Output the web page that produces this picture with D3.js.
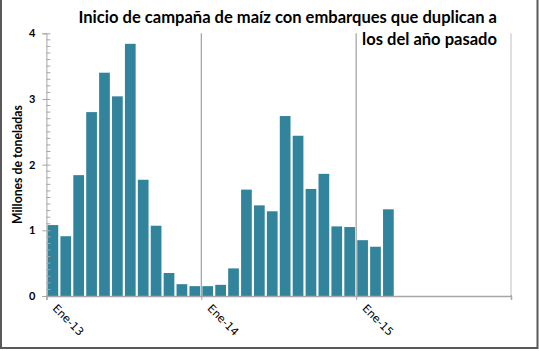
<!DOCTYPE html>
<html>
<head>
<meta charset="utf-8">
<script src="https://cdn.jsdelivr.net/npm/d3@7"></script>
<style>
  body { margin: 0; background: #fff; }
  svg { display: block; }
</style>
</head>
<body>
<svg id="chart" width="539" height="351"></svg>
<script>
// month names and years on the axis
const monthNames = ["Ene", "Feb", "Mar", "Abr", "May", "Jun", "Jul", "Ago", "Sep", "Oct", "Nov", "Dic"];
const years = ["13", "14", "15"];
// embarques, millones de toneladas (Ene-13 .. Mar-15)
const embarques = [1.08, 0.91, 1.84, 2.80, 3.40, 3.04, 3.84, 1.77, 1.07, 0.35, 0.18, 0.15,
                   0.15, 0.17, 0.42, 1.62, 1.38, 1.29, 2.74, 2.44, 1.63, 1.86, 1.06, 1.05,
                   0.85, 0.75, 1.32];
const yTicks = [0, 1, 2, 3, 4];
const xTickLabels = ["Ene-13", "Ene-14", "Ene-15"];
const titleLines = ["Inicio de campaña de maíz con embarques que duplican a", "los del año pasado"];
const yTitle = "Millones de toneladas";

const allMonths = [];
years.forEach(y => monthNames.forEach(m => allMonths.push(m + "-" + y)));

const svg = d3.select("svg#chart");
const bounds = { minX: 46.4, maxX: 511, minY: 33.3, maxY: 296 };

// frame
svg.append("rect")
    .attr("x", 1).attr("y", -2)
    .attr("width", 536.5).attr("height", 350)
    .attr("fill", "none").attr("stroke", "#595959").attr("stroke-width", 2);

const xBand = d3.scaleBand().domain(allMonths)
    .range([bounds.minX, bounds.maxX])
    .paddingInner(0.17).paddingOuter(0.085);
const xPos = d3.scaleLinear().domain([0, allMonths.length]).range([bounds.minX, bounds.maxX]);
const y = d3.scaleLinear().domain([0, 4]).range([bounds.maxY, bounds.minY]);

// vertical year gridlines
const yearIdx = [12, 24, 36];
svg.append("g").selectAll("line").data(yearIdx).join("line")
    .attr("x1", d => xPos(d)).attr("x2", d => xPos(d))
    .attr("y1", bounds.minY).attr("y2", bounds.maxY)
    .attr("stroke", d => d === 36 ? "#bfbfbf" : "#8c8c8c").attr("stroke-width", 1);

// bars
svg.append("g").selectAll("rect").data(embarques).join("rect")
    .attr("x", (d, i) => xBand(allMonths[i]))
    .attr("width", xBand.bandwidth())
    .attr("y", d => y(d))
    .attr("height", d => y(0) - y(d))
    .attr("fill", "#31849b");

// y axis
const yAxisG = svg.append("g").attr("transform", `translate(${bounds.minX} 0)`);
yAxisG.call(d3.axisLeft(y).tickValues(yTicks).tickSize(4).tickPadding(7).tickFormat(d3.format("d")));
yAxisG.select(".domain").attr("stroke", "#a6a6a6");
yAxisG.selectAll(".tick line").attr("x1", -4).attr("x2", 4).attr("stroke", "#a6a6a6");
yAxisG.selectAll(".tick text")
    .attr("font-family", "Lato, 'Open Sans', sans-serif")
    .attr("font-weight", "bold").attr("font-size", 11).attr("fill", "#000");
yAxisG.append("g").selectAll("line").data(d3.range(1, 40).filter(i => i % 10 !== 0).map(i => i / 10)).join("line")
    .attr("x1", 0).attr("x2", 4)
    .attr("y1", d => y(d)).attr("y2", d => y(d))
    .attr("stroke", "#a6a6a6");

// x axis
const xAxisG = svg.append("g").attr("transform", `translate(0 ${bounds.maxY})`);
xAxisG.call(d3.axisBottom(xPos).tickValues([0, 12, 24, 36]).tickSize(4)
    .tickFormat(d => xTickLabels[d / 12] || ""));
xAxisG.select(".domain").attr("stroke", "#a6a6a6").attr("stroke-width", 1.5);
xAxisG.selectAll(".tick line").attr("y1", -1).attr("stroke", "#a6a6a6");
xAxisG.selectAll(".tick text")
    .attr("font-family", "'DejaVu Sans', Verdana, sans-serif")
    .attr("font-size", 11).attr("fill", "#000")
    .attr("text-anchor", "start")
    .attr("dy", null).attr("y", 0)
    .attr("transform", "translate(5 13) rotate(45)");

// text helper: scale font-size to fit a width
function fitText(sel, width) {
    const len = sel.node().getComputedTextLength();
    const fs = parseFloat(sel.attr("font-size"));
    sel.attr("font-size", fs * width / len);
    return fs * width / len;
}

// y title
const yt = svg.append("text")
    .attr("transform", `translate(22 ${(bounds.minY + bounds.maxY) / 2}) rotate(-90)`)
    .attr("text-anchor", "middle")
    .attr("font-family", "Lato, 'Open Sans', sans-serif")
    .attr("font-weight", "bold").attr("font-size", 11)
    .text(yTitle);
fitText(yt, 119);

// title, right aligned
const titleY = [22.5, 45];
let titleSize = 16;
titleLines.forEach((t, i) => {
    const tt = svg.append("text")
        .attr("x", 497).attr("y", titleY[i])
        .attr("text-anchor", "end")
        .attr("font-family", "Lato, 'Open Sans', sans-serif")
        .attr("font-weight", "bold").attr("font-size", titleSize)
        .text(t);
    if (i === 0) titleSize = fitText(tt, 419);
});
</script>
</body>
</html>
